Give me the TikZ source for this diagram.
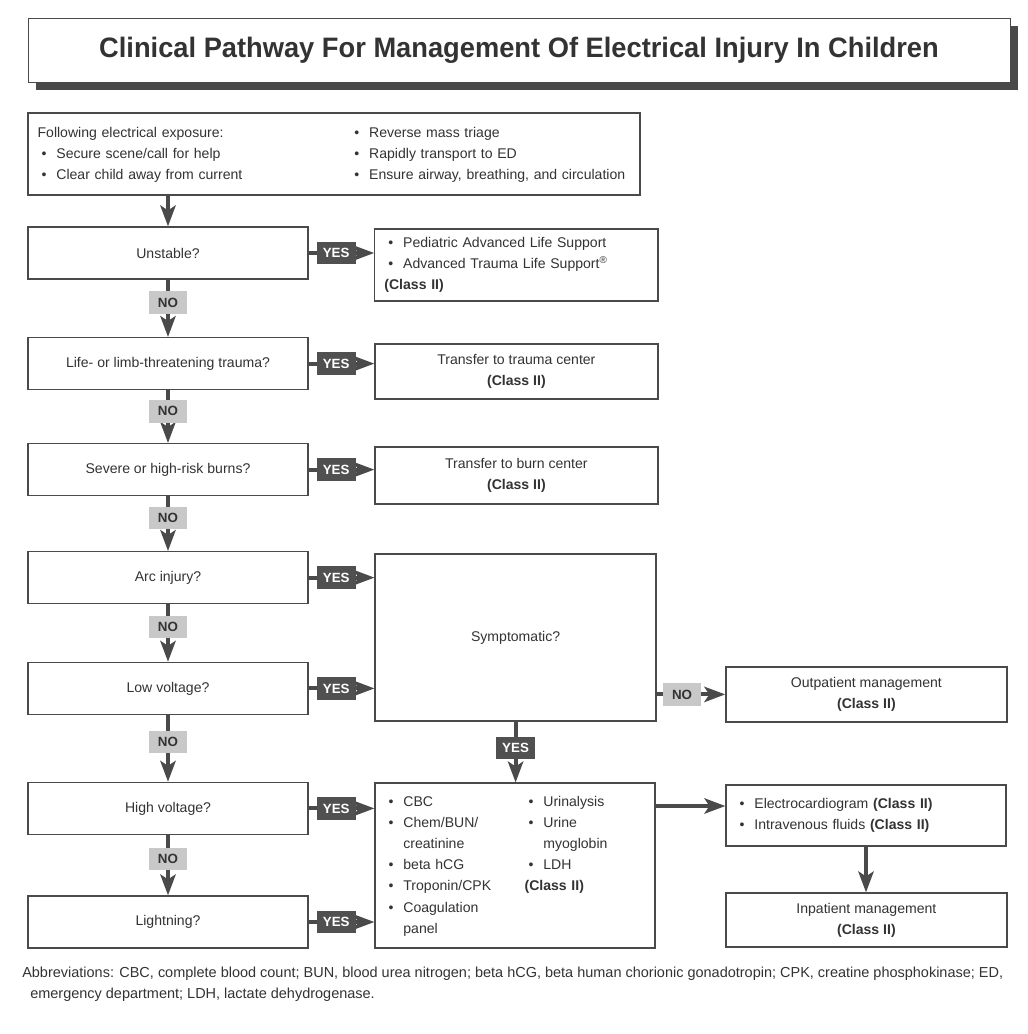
\documentclass[tikz,border=0pt]{standalone}
\usepackage{fontspec}
\setmainfont{Liberation Sans}
\newfontfamily\titlefont[FakeStretch=0.97]{Liberation Sans}
\newfontfamily\notefont{Liberation Sans}
\usetikzlibrary{arrows.meta,positioning,calc,shadows}

\definecolor{ink}{HTML}{333333}
\definecolor{edge}{HTML}{4A4A4A}
\definecolor{yesc}{HTML}{505050}
\definecolor{noc}{HTML}{C8C8C8}

\newcommand\bul{\hspace*{0.1cm}\makebox[0.37cm][l]{\textbullet}}
\newcommand\ind{\hspace*{0.47cm}}
\newcommand\cls{\textbf{(Class II)}}

\begin{document}
\begin{tikzpicture}[
  box/.style={draw=edge,line width=0.9pt,fill=white,text=ink,inner xsep=0.24cm,
              inner ysep=0pt,font=\fontsize{10}{15}\selectfont},
  qbox/.style={box,align=center,minimum width=7cm,minimum height=1.3cm},
  ar/.style={-{Stealth[length=5.2mm,width=3.8mm,inset=1.2mm]},line width=2.8pt,draw=edge},
  yestag/.style={fill=yesc,text=white,font=\bfseries\fontsize{9.5}{10}\selectfont,
                 minimum width=0.97cm,minimum height=0.56cm,inner sep=0pt},
  notag/.style={yestag,fill=noc,text=ink}]

  \useasboundingbox (0,0) rectangle (25.7,-25.85);
  \fill[white] (0,0) rectangle (25.7,-25.85);

  % title
  \node[draw=edge,fill=white,minimum width=24.55cm,minimum height=1.6cm,inner sep=0pt,
        general shadow={fill=edge,shadow xshift=0.2cm,shadow yshift=-0.2cm},text=ink]
    (title) at (12.975,-1.25)
    {\titlefont\bfseries\fontsize{20}{22}\selectfont
     Clinical Pathway For Management Of Electrical Injury In Children};

  % first aid
  \node[box,align=left,text width=14.82cm,minimum height=2.05cm] (start) at (8.35,-3.85)
    {\begin{tabular}{@{}p{7.82cm}@{}l@{}}
       Following electrical exposure: & \bul Reverse mass triage\\
       \bul Secure scene/call for help & \bul Rapidly transport to ED\\
       \bul Clear child away from current & \bul Ensure airway, breathing, and circulation
     \end{tabular}};

  % questions, left column
  \node[qbox] (q1) at (4.2,-6.325) {Unstable?};
  \node[qbox] (q2) at (4.2,-9.09)  {Life- or limb-threatening trauma?};
  \node[qbox] (q3) at (4.2,-11.74) {Severe or high-risk burns?};
  \node[qbox] (q4) at (4.2,-14.44) {Arc injury?};
  \node[qbox] (q5) at (4.2,-17.21) {Low voltage?};
  \node[qbox] (q6) at (4.2,-20.21) {High voltage?};
  \node[qbox] (q7) at (4.2,-23.05) {Lightning?};

  % actions, middle column
  \node[box,align=left,text width=6.6cm,minimum height=1.8cm] (pals) at (12.91,-6.625)
    {\bul Pediatric Advanced Life Support\\
     \bul Advanced Trauma Life Support\textsuperscript{\textregistered}\\
     \cls};
  \node[box,align=center,minimum width=7.075cm,minimum height=1.375cm] (trauma) at (12.91,-9.29)
    {Transfer to trauma center\\ \cls};
  \node[box,align=center,minimum width=7.075cm,minimum height=1.425cm] (burn) at (12.91,-11.89)
    {Transfer to burn center\\ \cls};
  \node[box,align=center,minimum width=7.025cm,minimum height=4.175cm] (symp) at (12.89,-15.94)
    {Symptomatic?};
  \node[box,align=left,text width=6.52cm,minimum height=4.125cm] (tests) at (12.875,-21.64)
    {\begin{tabular}{@{}p{3.5cm}@{}l@{}}
       \bul CBC & \bul Urinalysis\\
       \bul Chem/BUN/ & \bul Urine\\
       \ind creatinine & \ind myoglobin\\
       \bul beta hCG & \bul LDH\\
       \bul Troponin/CPK & \cls\\
       \bul Coagulation & \\
       \ind panel &
     \end{tabular}};

  % right column
  \node[box,align=center,minimum width=7.025cm,minimum height=1.375cm] (out) at (21.66,-17.36)
    {Outpatient management\\ \cls};
  \node[box,align=left,text width=6.52cm,minimum height=1.525cm] (ecg) at (21.65,-20.39)
    {\bul Electrocardiogram \cls\\
     \bul Intravenous fluids \cls};
  \node[box,align=center,minimum width=7.025cm,minimum height=1.35cm] (inp) at (21.66,-23.0)
    {Inpatient management\\ \cls};

  % NO chain
  \draw[ar] (q1 |- start.south) -- (q1.north);
  \foreach \a/\b in {q1/q2,q2/q3,q3/q4,q4/q5,q5/q6,q6/q7}
    \draw[ar] (\a) -- node[notag,pos=0.4]{NO} (\b);

  % YES branches
  \foreach \a/\b in {q1/pals,q2/trauma,q3/burn,q4/symp,q5/symp,q6/tests,q7/tests}
    \draw[ar] (\a.east) -- node[yestag,pos=0.42]{YES} (\a.east -| \b.west);

  \draw[ar] (out.west -| symp.east) -- node[notag,pos=0.37]{NO} (out.west);
  \draw[ar] (symp.south) -- node[yestag,pos=0.43]{YES} (symp.south |- tests.north);
  \draw[ar] ([yshift=0.24cm]ecg.west -| tests.east) -- ([yshift=0.24cm]ecg.west);
  \draw[ar] (ecg.south) -- (ecg.south |- inp.north);

  % abbreviations
  \node[anchor=north west,align=left,inner sep=0pt,text=ink,
        font=\notefont\fontsize{10.3}{14.9}\selectfont] (abbr) at (0.55,-24.16)
    {Abbreviations: CBC, complete blood count; BUN, blood urea nitrogen; beta hCG, beta human chorionic gonadotropin; CPK, creatine phosphokinase; ED,\\
     \hspace*{0.2cm}emergency department; LDH, lactate dehydrogenase.};
\end{tikzpicture}
\end{document}
